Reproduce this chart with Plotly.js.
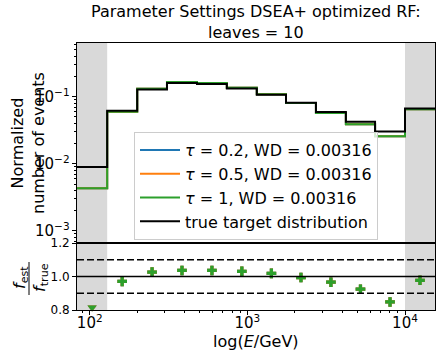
<!DOCTYPE html>
<html>
<head>
<meta charset="utf-8">
<script src="https://cdn.plot.ly/plotly-3.0.1.min.js"></script>
<style>html,body{margin:0;padding:0;background:#fff;}#chart{width:442px;height:356px;}</style>
</head>
<body>
<div id="chart"></div>
<script>
// Bin edges in GeV (12 bins, first and last are under/overflow)
const binEdges = [83, 129, 200, 309, 479, 741, 1148, 1758, 2723, 4217, 6457, 10000, 15500];
// True target distribution (normalized)
const trueDist = [0.0090, 0.0615, 0.1277, 0.160, 0.155, 0.132, 0.107, 0.081, 0.059, 0.0422, 0.0303, 0.0665];
// Unfolded estimates for the three tau settings (indistinguishable in the plot)
const estTau02 = [0.00434, 0.0597, 0.131, 0.1658, 0.1606, 0.136, 0.109, 0.0805, 0.057, 0.039, 0.0257, 0.065];
const estTau05 = [0.00434, 0.0597, 0.131, 0.1658, 0.1606, 0.136, 0.109, 0.0805, 0.057, 0.039, 0.0257, 0.065];
const estTau1  = [0.00434, 0.0597, 0.131, 0.1658, 0.1606, 0.136, 0.109, 0.0805, 0.057, 0.039, 0.0257, 0.065];
const seriesNames = ['<i>τ</i> = 0.2, WD = 0.00316', '<i>τ</i> = 0.5, WD = 0.00316', '<i>τ</i> = 1, WD = 0.00316'];
const seriesColors = ['#1f77b4', '#ff7f0e', '#2ca02c'];
const ratioLimits = [0.8, 1.2];

const FONT = 'DejaVu Sans, sans-serif';

function stepXY(vals) {
  const x = binEdges.slice();
  const y = vals.slice();
  y.push(vals[vals.length - 1]);
  return {x, y};
}
const centers = binEdges.slice(0, -1).map((e, i) => Math.sqrt(e * binEdges[i + 1]));

const traces = [];
const ests = [estTau02, estTau05, estTau1];
ests.forEach((est, k) => {
  const s = stepXY(est);
  traces.push({x: s.x, y: s.y, type: 'scatter', mode: 'lines', line: {shape: 'hv', color: seriesColors[k], width: 2},
    name: seriesNames[k], xaxis: 'x', yaxis: 'y', hoverinfo: 'skip'});
});
const st = stepXY(trueDist);
traces.push({x: st.x, y: st.y, type: 'scatter', mode: 'lines', line: {shape: 'hv', color: '#000', width: 2},
  name: 'true target distribution', xaxis: 'x', yaxis: 'y'});

// ratio panel
ests.forEach((est, k) => {
  const r = est.map((v, i) => v / trueDist[i]);
  const inY = [], inX = [], outX = [], outY = [];
  r.forEach((v, i) => {
    if (v < ratioLimits[0]) { outX.push(centers[i]); outY.push(ratioLimits[0] + 0.015); }
    else { inX.push(centers[i]); inY.push(v); }
  });
  traces.push({x: inX, y: inY, type: 'scatter', mode: 'markers', marker: {symbol: 'cross', size: 8, color: seriesColors[k]},
    xaxis: 'x2', yaxis: 'y2', showlegend: false});
  traces.push({x: outX, y: outY, type: 'scatter', mode: 'markers', marker: {symbol: 'triangle-down', size: 8, color: seriesColors[k]},
    xaxis: 'x2', yaxis: 'y2', showlegend: false, cliponaxis: false});
});

const L = 77, R = 7, T = 43, B = 46;
const W = 442, H = 356;
const pw = W - L - R, ph = H - T - B;
const split = 67 / ph;
const xr = [Math.log10(binEdges[0]), Math.log10(binEdges[binEdges.length - 1])];
const px = v => (v - L) / pw;
const py = v => (H - B - v) / ph;

const axBase = {showline: true, linecolor: '#000', linewidth: 1, mirror: true, showgrid: false, zeroline: false,
  ticks: 'outside', ticklen: 4, tickwidth: 1, tickcolor: '#000', tickfont: {family: FONT, size: 12, color: '#000'}};

const shapes = [];
[[binEdges[0], binEdges[1]], [binEdges[binEdges.length - 2], binEdges[binEdges.length - 1]]].forEach(([a, b]) => {
  shapes.push({type: 'rect', xref: 'x2', yref: 'paper', x0: a, x1: b, y0: 0, y1: 1, fillcolor: '#d9d9d9', line: {width: 0}, layer: 'below'});
});
[[1.0, 'solid'], [1.2, 'solid'], [0.9, '7px,3px'], [1.1, '7px,3px']].forEach(([v, d]) => {
  shapes.push({type: 'line', xref: 'paper', yref: 'y2', x0: 0, x1: 1, y0: v, y1: v, line: {color: '#000', width: 1.5, dash: d}, layer: 'above'});
});
// fraction bar of ratio label
shapes.push({type: 'line', xref: 'paper', yref: 'paper', x0: px(29), x1: px(29), y0: py(262), y1: py(295), line: {color: '#000', width: 1}});

const layout = {
  width: W, height: H, margin: {l: L, r: R, t: T, b: B}, paper_bgcolor: '#fff', plot_bgcolor: 'rgba(0,0,0,0)',
  font: {family: FONT, color: '#000'},
  showlegend: true,
  xaxis: Object.assign({}, axBase, {type: 'log', range: xr, domain: [0, 1], anchor: 'y', showticklabels: false, ticks: '', dtick: 1}),
  yaxis: Object.assign({}, axBase, {type: 'log', range: [-3.18, -0.2], domain: [split, 1], anchor: 'x', dtick: 1, exponentformat: 'power',
    minor: {ticks: 'outside', ticklen: 2, tickcolor: '#000', dtick: 'D1', showgrid: false}}),
  xaxis2: Object.assign({}, axBase, {type: 'log', range: xr, domain: [0, 1], anchor: 'y2', dtick: 1, exponentformat: 'power',
    ticklabelstandoff: -4,
    minor: {ticks: 'outside', ticklen: 2, tickcolor: '#000', dtick: 'D1', showgrid: false}}),
  yaxis2: Object.assign({}, axBase, {range: ratioLimits, domain: [0, split], anchor: 'x2', tickvals: [0.8, 1.0, 1.2], ticktext: ['0.8', '1.0', '1.2']}),
  legend: {x: px(134), y: py(132), xanchor: 'left', yanchor: 'top', bgcolor: 'rgba(255,255,255,0.8)', bordercolor: '#cccccc', borderwidth: 1,
    font: {family: FONT, size: 16, color: '#000'}, itemwidth: 40, traceorder: 'normal'},
  shapes: shapes,
  annotations: [
    {text: 'Parameter Settings DSEA+ optimized RF:<br>leaves = 10', xref: 'paper', yref: 'paper', x: 0.5, y: py(22), xanchor: 'center', yanchor: 'middle',
      showarrow: false, font: {family: FONT, size: 16, color: '#000'}},
    {text: 'Normalized<br>number of events', textangle: -90, xref: 'paper', yref: 'paper', x: px(28), y: py(143), xanchor: 'center', yanchor: 'middle',
      showarrow: false, font: {family: FONT, size: 16, color: '#000'}},
    {text: 'log(<i>E</i>/GeV)', xref: 'paper', yref: 'paper', x: 0.5, y: py(341), xanchor: 'center', yanchor: 'middle',
      showarrow: false, font: {family: FONT, size: 16, color: '#000'}},
    {text: '<i>f</i><sub>est</sub>', textangle: -90, xref: 'paper', yref: 'paper', x: px(20), y: py(278), xanchor: 'center', yanchor: 'middle',
      showarrow: false, font: {family: FONT, size: 16, color: '#000'}},
    {text: '<i>f</i><sub>true</sub>', textangle: -90, xref: 'paper', yref: 'paper', x: px(40), y: py(278), xanchor: 'center', yanchor: 'middle',
      showarrow: false, font: {family: FONT, size: 16, color: '#000'}}
  ]
};

Plotly.newPlot('chart', traces, layout, {staticPlot: true, displayModeBar: false});
</script>
</body>
</html>
